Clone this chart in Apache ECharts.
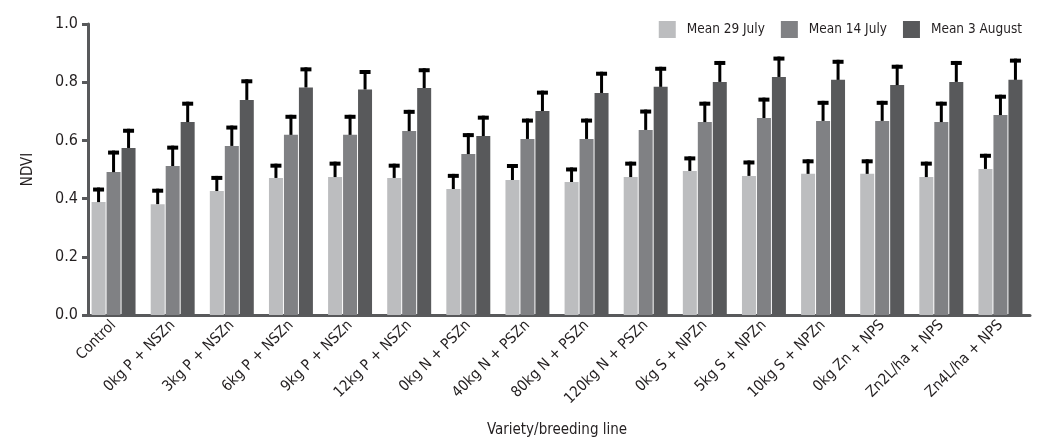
<!DOCTYPE html>
<html lang="en">
<head>
    <meta charset="UTF-8">
    <title>NDVI bar chart</title>
    <script type="text/javascript" src="https://cdn.jsdelivr.net/npm/echarts@6/dist/echarts.min.js"></script>
    <style>
        html, body { margin: 0; padding: 0; background: #fff; }
    </style>
</head>
<body>
  <div id="main" style="width: 1043px;height: 444px;"></div>
</body>
<script>
    // categories
    var categories = ['Control', '0kg P + NSZn', '3kg P + NSZn', '6kg P + NSZn', '9kg P + NSZn', '12kg P + NSZn',
        '0kg N + PSZn', '40kg N + PSZn', '80kg N + PSZn', '120kg N + PSZn', '0kg S + NPZn', '5kg S + NPZn',
        '10kg S + NPZn', '0kg Zn + NPS', 'Zn2L/ha + NPS', 'Zn4L/ha + NPS'];
    var seriesNames = ['Mean 29 July', 'Mean 14 July', 'Mean 3 August'];

    // means
    var july29 = [0.388, 0.381, 0.426, 0.471, 0.474, 0.471, 0.433, 0.464, 0.457, 0.474, 0.495, 0.478, 0.485, 0.485, 0.474, 0.502];
    var july14 = [0.491, 0.512, 0.581, 0.619, 0.619, 0.632, 0.553, 0.605, 0.605, 0.636, 0.663, 0.677, 0.667, 0.667, 0.663, 0.687];
    var aug3   = [0.574, 0.663, 0.739, 0.782, 0.775, 0.780, 0.615, 0.701, 0.763, 0.784, 0.801, 0.818, 0.808, 0.790, 0.801, 0.808];

    // error (upper whisker length)
    var july29Err = [0.050, 0.053, 0.052, 0.049, 0.053, 0.049, 0.052, 0.055, 0.050, 0.053, 0.050, 0.053, 0.050, 0.050, 0.053, 0.052];
    var july14Err = [0.074, 0.070, 0.070, 0.069, 0.069, 0.073, 0.072, 0.070, 0.070, 0.070, 0.070, 0.070, 0.069, 0.069, 0.070, 0.070];
    var aug3Err   = [0.066, 0.070, 0.071, 0.069, 0.067, 0.068, 0.070, 0.070, 0.073, 0.069, 0.072, 0.070, 0.069, 0.070, 0.072, 0.073];

    var yTicks = [0, 0.2, 0.4, 0.6, 0.8, 1.0];

    var colors = ['#bcbdbf', '#808184', '#58595b'];
    var font = "'Liberation Sans Narrow', 'DejaVu Sans Condensed', sans-serif";
    var textColor = '#231f20';
    var axisColor = '#58595b';
    var barW = 14;

    var means = [july29, july14, aug3];
    var errs = [july29Err, july14Err, aug3Err];

    var series = [];
    means.forEach(function (arr, i) {
        series.push({
            name: seriesNames[i],
            type: 'bar',
            barWidth: barW,
            barGap: '7%',
            itemStyle: { color: colors[i] },
            data: arr,
            z: 2
        });
    });
    // error bars drawn on top of each bar
    means.forEach(function (arr, i) {
        var off = (i - 1) * (barW + 1);
        series.push({
            name: seriesNames[i] + ' err',
            type: 'custom',
            z: 3,
            silent: true,
            encode: { x: 0, y: [1, 2] },
            data: arr.map(function (v, k) { return [k, v, v + errs[i][k]]; }),
            renderItem: function (params, api) {
                var base = api.coord([api.value(0), api.value(1)]);
                var top = api.coord([api.value(0), api.value(2)]);
                var x = base[0] + off;
                return {
                    type: 'group',
                    children: [{
                        type: 'line',
                        shape: { x1: x, y1: base[1], x2: x, y2: top[1] },
                        style: { stroke: '#000', lineWidth: 3 }
                    }, {
                        type: 'line',
                        shape: { x1: x - 5.5, y1: top[1] + 2, x2: x + 5.5, y2: top[1] + 2 },
                        style: { stroke: '#000', lineWidth: 4 }
                    }]
                };
            }
        });
    });

    var myChart = echarts.init(document.getElementById('main'));
    var option = {
        animation: false,
        backgroundColor: '#fff',
        textStyle: { fontFamily: font, color: textColor },
        legend: {
            data: seriesNames,
            top: 16,
            right: 16,
            itemWidth: 17,
            itemHeight: 17,
            itemGap: 16,
            icon: 'rect',
            textStyle: { fontFamily: font, fontSize: 13.5, color: textColor, padding: [0, 0, 0, 6] }
        },
        grid: { left: 84, right: 13, top: 24, bottom: 129, containLabel: false },
        xAxis: {
            type: 'category',
            data: categories,
            name: 'Variety/breeding line',
            nameLocation: 'middle',
            nameGap: 108,
            nameTextStyle: { fontFamily: font, fontSize: 15, color: textColor },
            axisLine: { lineStyle: { color: axisColor, width: 3 } },
            axisTick: { alignWithLabel: true, length: 5, lineStyle: { color: axisColor, width: 3 } },
            axisLabel: { interval: 0, rotate: 45, fontSize: 15, color: textColor, fontFamily: font, margin: 8 }
        },
        yAxis: {
            type: 'value',
            min: yTicks[0],
            max: yTicks[yTicks.length - 1],
            interval: 0.2,
            offset: -4,
            name: 'NDVI',
            nameLocation: 'middle',
            nameGap: 52,
            nameTextStyle: { fontFamily: font, fontSize: 15, color: textColor },
            splitLine: { show: false },
            axisLine: { show: true, lineStyle: { color: axisColor, width: 3 } },
            axisTick: { show: true, length: 6, lineStyle: { color: axisColor, width: 3 } },
            axisLabel: {
                fontSize: 16, color: textColor, fontFamily: font, margin: 10,
                formatter: function (v) { return v.toFixed(1); }
            }
        },
        series: series
    };
    myChart.setOption(option);
</script>
</html>
